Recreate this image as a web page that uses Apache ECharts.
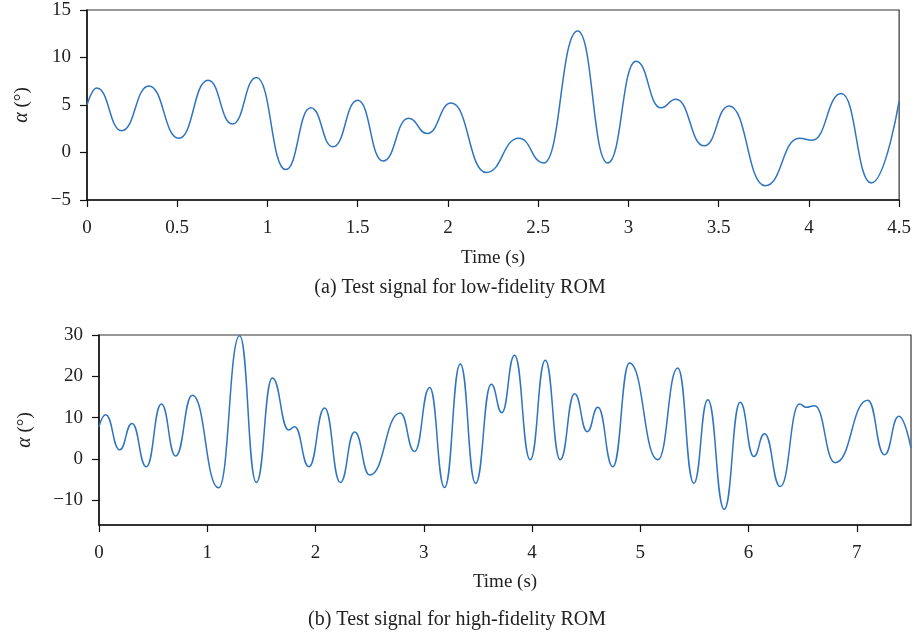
<!DOCTYPE html>
<html>
<head>
<meta charset="utf-8">
<script src="https://cdn.jsdelivr.net/npm/echarts@6/dist/echarts.min.js"></script>
<style>
  html, body { margin: 0; padding: 0; background: #fff; }
  #main { width: 914px; height: 637px; }
</style>
</head>
<body>
<div id="main"></div>
<script>
// (a) low-fidelity test signal: peaks / troughs
const topTime  = [0, 0.054, 0.192, 0.343, 0.509, 0.671, 0.806, 0.939, 1.101, 1.240, 1.363, 1.500, 1.640, 1.782, 1.885, 2.018, 2.212, 2.393, 2.531, 2.719, 2.885, 3.042, 3.180, 3.263, 3.420, 3.558, 3.758, 3.946, 4.019, 4.180, 4.346, 4.5];
const topAlpha = [5.0, 6.8, 2.3, 7.0, 1.5, 7.6, 3.0, 7.9, -1.8, 4.7, 0.6, 5.5, -0.9, 3.6, 2.0, 5.2, -2.1, 1.5, -1.1, 12.8, -1.1, 9.6, 4.7, 5.6, 0.7, 4.9, -3.5, 1.5, 1.3, 6.2, -3.2, 5.4];

// (b) high-fidelity test signal
const botTime  = [0, 0.062, 0.191, 0.305, 0.437, 0.576, 0.708, 0.862, 1.105, 1.299, 1.453, 1.601, 1.752, 1.807, 1.939, 2.084, 2.229, 2.361, 2.500, 2.783, 2.915, 3.054, 3.192, 3.337, 3.478, 3.623, 3.721, 3.838, 3.983, 4.122, 4.260, 4.393, 4.510, 4.608, 4.746, 4.900, 5.162, 5.346, 5.494, 5.623, 5.775, 5.922, 6.048, 6.147, 6.292, 6.470, 6.532, 6.609, 6.800, 7.101, 7.255, 7.387, 7.5];
const botAlpha = [7.8, 10.7, 2.2, 8.6, -1.9, 13.3, 0.7, 15.4, -7.0, 29.8, -5.7, 19.6, 7.0, 7.8, -1.9, 12.3, -5.7, 6.5, -3.9, 11.1, 1.8, 17.3, -6.9, 23.0, -5.9, 18.1, 11.2, 25.1, -0.2, 23.9, -0.2, 15.8, 6.6, 12.5, -1.9, 23.2, -0.2, 22.0, -5.9, 14.3, -12.2, 13.7, 0.6, 6.1, -6.7, 13.3, 12.5, 12.9, -0.9, 14.2, 1.0, 10.3, 2.6];

const botXTicks = [0, 1, 2, 3, 4, 5, 6, 7];
const botYTicks = [-10, 0, 10, 20, 30];

const FONT = 'Liberation Serif';
const LINE_COLOR = '#2f74c0';

const zip = (xs, ys) => xs.map((x, i) => [x, ys[i]]);
const minus = v => String(v).replace('-', '\u2212');

const axisBase = {
  axisLine: { show: true, onZero: false, lineStyle: { color: '#111', width: 1.5 } },
  axisTick: { show: true, inside: false, length: 7, lineStyle: { color: '#111', width: 1.2 } },
  splitLine: { show: false },
  axisLabel: { fontFamily: FONT, fontSize: 19, color: '#222', formatter: minus },
  nameTextStyle: { fontFamily: FONT, fontSize: 19, color: '#222' }
};

function xAx(idx, opts) {
  return Object.assign({}, axisBase, {
    type: 'value', gridIndex: idx,
    name: 'Time (s)', nameLocation: 'middle', nameGap: 49
  }, opts, {
    axisLabel: Object.assign({}, axisBase.axisLabel, { margin: 19 }, opts.axisLabel || {}),
    axisTick: Object.assign({}, axisBase.axisTick, opts.axisTick || {})
  });
}

function yAx(idx, opts) {
  return Object.assign({}, axisBase, {
    type: 'value', gridIndex: idx,
    name: '{a|\u03b1} (\u00b0)', nameLocation: 'middle', nameGap: 55,
    nameTextStyle: {
      fontFamily: FONT, fontSize: 19, color: '#222',
      rich: { a: { fontFamily: FONT, fontSize: 20, fontStyle: 'italic', color: '#222' } }
    }
  }, opts, {
    axisLabel: Object.assign({}, axisBase.axisLabel, { margin: 16 }, opts.axisLabel || {}),
    axisTick: Object.assign({}, axisBase.axisTick, opts.axisTick || {})
  });
}

const chart = echarts.init(document.getElementById('main'), null, { renderer: 'canvas' });

const option = {
  backgroundColor: '#fff',
  animation: false,
  grid: [
    { left: 87, top: 10, width: 813, height: 190, show: true, borderColor: '#333', borderWidth: 1.2 },
    { left: 99, top: 335, width: 812, height: 190, show: true, borderColor: '#333', borderWidth: 1.2 }
  ],
  xAxis: [
    xAx(0, { min: 0, max: 4.5, interval: 0.5 }),
    xAx(1, { min: 0, max: 7.5, nameGap: 48,
      axisLabel: { customValues: botXTicks },
      axisTick: { customValues: botXTicks } })
  ],
  yAxis: [
    yAx(0, { min: -5, max: 15, interval: 5 }),
    yAx(1, { min: -16, max: 30, nameGap: 64,
      axisLabel: { customValues: botYTicks },
      axisTick: { customValues: botYTicks } })
  ],
  series: [
    { type: 'line', xAxisIndex: 0, yAxisIndex: 0, data: zip(topTime, topAlpha),
      smooth: 0.5, smoothMonotone: 'x', showSymbol: false,
      lineStyle: { color: LINE_COLOR, width: 1.5 } },
    { type: 'line', xAxisIndex: 1, yAxisIndex: 1, data: zip(botTime, botAlpha),
      smooth: 0.5, smoothMonotone: 'x', showSymbol: false,
      lineStyle: { color: LINE_COLOR, width: 1.5 } }
  ],
  graphic: [
    { type: 'text', x: 460, y: 288,
      style: { text: '(a) Test signal for low-fidelity ROM', font: '20px "Liberation Serif"', fill: '#222', align: 'center', verticalAlign: 'middle' } },
    { type: 'text', x: 457, y: 620,
      style: { text: '(b) Test signal for high-fidelity ROM', font: '20px "Liberation Serif"', fill: '#222', align: 'center', verticalAlign: 'middle' } }
  ]
};

chart.setOption(option);
</script>
</body>
</html>
